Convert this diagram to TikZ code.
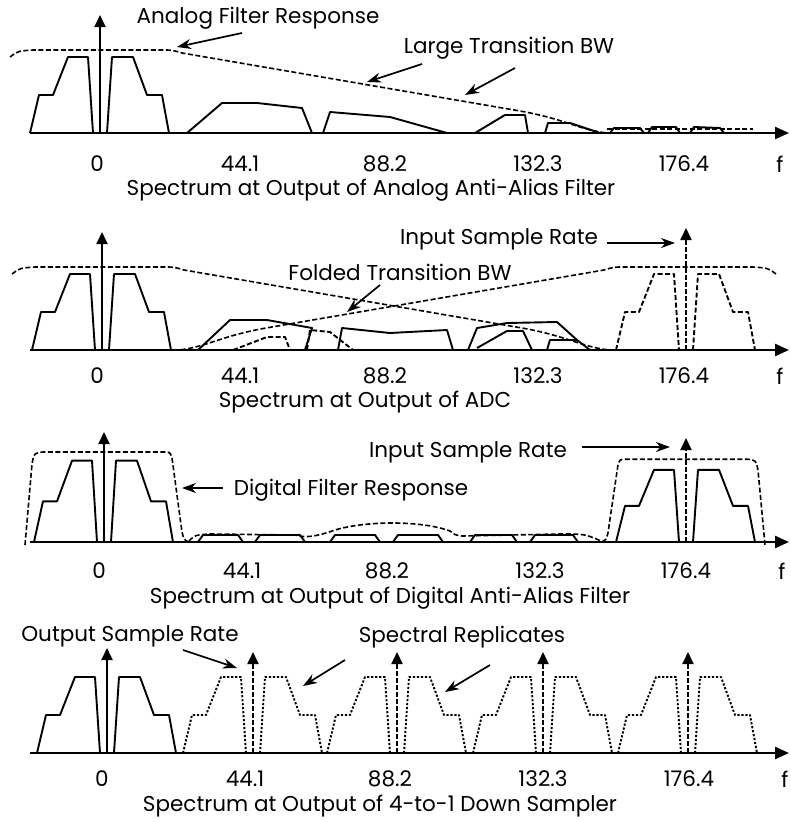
\documentclass[tikz,border=0pt]{standalone}
\usepackage{fontspec}
\setmainfont{Poppins}
\usetikzlibrary{arrows.meta}

\begin{document}
\begin{tikzpicture}[
    x=1pt, y=-1pt,
    line join=round,
    axis/.style={line width=2.3pt, -{Triangle[length=14pt, width=12pt]}},
    spec/.style={line width=1.9pt},
    alias/.style={spec, dash pattern=on 5pt off 2.5pt},
    replica/.style={line width=1.9pt, dash pattern=on 2.2pt off 1.8pt},
    resp/.style={line width=1.6pt, dash pattern=on 5pt off 2.5pt},
    spike/.style={line width=2pt, -{Triangle[length=12pt, width=11pt]}},
    spikedash/.style={spike, dash pattern=on 5pt off 2pt},
    callout/.style={line width=1.7pt, -{Stealth[length=14pt, width=10pt]}},
    lbl/.style={font=\fontsize{21.5}{23}\selectfont, inner sep=0pt},
    band/.pic={
      \draw[pic actions] (-70,0) -- (-61,-38) -- (-47,-38) -- (-32,-76) -- (-12,-76) -- (-7,0);
      \draw[pic actions] (7,0) -- (12,-76) -- (33,-76) -- (47,-38) -- (62,-38) -- (69,0);
    },
    analog/.pic={
      \draw[pic actions] (-90,-76) .. controls (-82,-82) .. (-67,-83) -- (62,-83)
        .. controls (72,-83) .. (82,-80) -- (420,-22) .. controls (465,-14) and (480,-3) .. (507,0);
    },
    digital/.pic={
      \draw[pic actions] (-79,3) -- (-72,-78) .. controls (-70,-89) .. (-61,-90) -- (60,-90)
        .. controls (66,-90) .. (68,-84) -- (78,-10) .. controls (80,-2) .. (85,0);
    }
]
  \useasboundingbox (0,0) rectangle (790,822);

  % Axes, tick labels and f
  \foreach \p/\ya/\yt/\dx in {1/133/164/0, 2/350/376/0, 3/542/571/2, 4/753/779/5} {
    \draw[axis] (30,\ya) -- (789,\ya);
    \foreach \f/\xx [count=\i] in {0/97, 44.1/240, 88.2/385, 132.3/538, 176.4/684}
      \node[lbl] (tick\p-\i) at (\xx+\dx,\yt) {\f};
    \node[lbl] (freq\p) at (780+\dx,\yt) {f};
  }

  % Captions
  \node[lbl] (cap1) at (371,190) {Spectrum at Output of Analog Anti-Alias Filter};
  \node[lbl] (cap2) at (365,402) {Spectrum at Output of ADC};
  \node[lbl] (cap3) at (390,598) {Spectrum at Output of Digital Anti-Alias Filter};
  \node[lbl] (cap4) at (380,806) {Spectrum at Output of 4-to-1 Down Sampler};

  % Panel 1: analog anti-alias filter
  \pic[spec] at (100,133) {band};
  \draw[spike] (100,133) -- (100,15);
  \pic[resp] at (100,133) {analog};
  \draw[resp] (607,129) -- (753,129);
  \draw[spec] (187,133) -- (222,103) -- (257,103) -- (302,108) -- (312,133);
  \draw[spec] (323,133) -- (330,112) -- (390,117) -- (447,133);
  \draw[spec] (475,133) -- (505,115) -- (525,115) -- (528,133);
  \draw[spec] (545,133) -- (548,123) -- (570,123) -- (600,133);
  \draw[spec] (610,133) -- (614,128) -- (640,128) -- (644,133);
  \draw[spec] (648,133) -- (652,127) -- (676,127) -- (680,133);
  \draw[spec] (690,133) -- (694,127) -- (720,128) -- (724,133);

  \node[lbl] (afr) at (258,18) {Analog Filter Response};
  \node[lbl] (ltbw) at (509,48) {Large Transition BW};
  \coordinate (afr-from) at (242,33);
  \coordinate (afr-to) at (177,47);
  \coordinate (ltbw-from1) at (422,64);
  \coordinate (ltbw-to1) at (367,82);
  \coordinate (ltbw-from2) at (515,68);
  \coordinate (ltbw-to2) at (465,95);
  \draw[callout] (afr-from) -- (afr-to);
  \draw[callout] (ltbw-from1) -- (ltbw-to1);
  \draw[callout] (ltbw-from2) -- (ltbw-to2);

  % Panel 2: output of ADC
  \pic[spec] at (102,350) {band};
  \draw[spike] (102,350) -- (102,232);
  \pic[resp] at (102,350) {analog};
  \pic[resp, xscale=-1] at (686,350) {analog};
  \pic[alias] at (686,350) {band};
  \draw[spikedash] (686,350) -- (686,228);
  \draw[spec] (198,350) -- (230,320) -- (267,320) -- (312,328) -- (305,350);
  \draw[spec] (338,350) -- (342,328) -- (390,333) -- (447,330) -- (453,350);
  \draw[spec] (468,350) -- (477,328) -- (507,323) -- (557,322) -- (577,340) -- (590,350);
  \draw[spec] (477,348) -- (507,331) -- (523,331) -- (532,350);
  \draw[spec] (547,350) -- (550,340) -- (577,340);
  \draw[alias] (233,350) -- (267,337) -- (285,337) -- (290,350);
  \draw[alias] (307,350) -- (310,330) -- (330,332) -- (353,350);

  \node[lbl] (isr2) at (499,239) {Input Sample Rate};
  \node[lbl] (ftbw) at (400,272) {Folded Transition BW};
  \coordinate (isr2-from) at (607,243);
  \coordinate (isr2-to) at (675,243);
  \coordinate (ftbw-from) at (380,285);
  \coordinate (ftbw-to) at (347,312);
  \draw[callout] (isr2-from) -- (isr2-to);
  \draw[callout] (ftbw-from) -- (ftbw-to);

  % Panel 3: digital anti-alias filter
  \pic[spec, yscale=1.07] at (104,542) {band};
  \draw[spike] (104,542) -- (104,432);
  \pic[spec, yscale=0.95] at (686,542) {band};
  \draw[spikedash] (686,542) -- (686,438);
  \pic[resp] at (104,542) {digital};
  \pic[resp, xscale=-1, yscale=0.92] at (686,542) {digital};
  \draw[resp] (189,541) .. controls (195,535) .. (210,534) -- (295,535)
    .. controls (305,538) and (315,537) .. (335,530) .. controls (365,521) and (420,520) .. (450,531)
    .. controls (455,535) .. (462,536) -- (560,534) .. controls (585,534) .. (601,541);
  \foreach \xa/\xb in {198/243, 255/305, 330/380, 393/443, 470/517, 530/578}
    \draw[spec] (\xa,542) -- (\xa+5,535) -- (\xb-5,535) -- (\xb,542);

  \node[lbl] (isr3) at (468,452) {Input Sample Rate};
  \node[lbl] (dfr) at (351,490) {Digital Filter Response};
  \coordinate (isr3-from) at (582,447);
  \coordinate (isr3-to) at (670,447);
  \coordinate (dfr-from) at (223,488);
  \coordinate (dfr-to) at (182,488);
  \draw[callout] (isr3-from) -- (isr3-to);
  \draw[callout] (dfr-from) -- (dfr-to);

  % Panel 4: 4-to-1 down sampler
  \pic[spec] at (107,753) {band};
  \draw[spike] (107,753) -- (107,648);
  \foreach \xc in {253, 397, 543, 688} {
    \pic[replica] at (\xc,753) {band};
    \draw[spikedash] (\xc,753) -- (\xc,652);
  }

  \node[lbl] (osr) at (130,636) {Output Sample Rate};
  \node[lbl] (srep) at (462,637) {Spectral Replicates};
  \coordinate (osr-from) at (183,650);
  \coordinate (osr-to) at (237,668);
  \coordinate (srep-from1) at (345,660);
  \coordinate (srep-to1) at (303,686);
  \coordinate (srep-from2) at (490,665);
  \coordinate (srep-to2) at (445,692);
  \draw[callout] (osr-from) -- (osr-to);
  \draw[callout] (srep-from1) -- (srep-to1);
  \draw[callout] (srep-from2) -- (srep-to2);
\end{tikzpicture}
\end{document}
